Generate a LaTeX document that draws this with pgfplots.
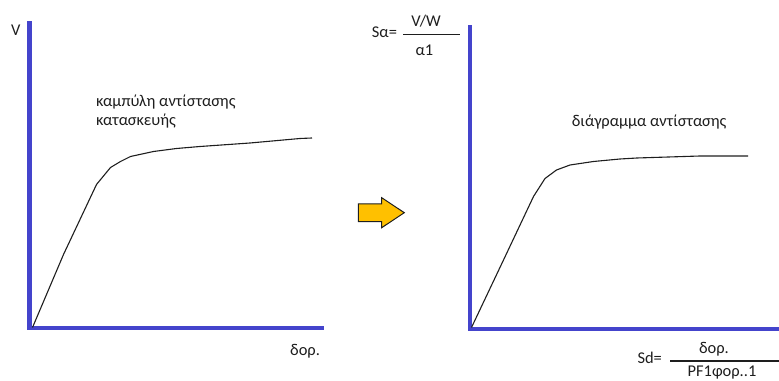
\documentclass[border=0pt]{standalone}
\usepackage{pgfplots}
\pgfplotsset{compat=1.18}
\usepackage{fontspec}
\setmainfont{Carlito}
\definecolor{axisblue}{RGB}{68,68,204}
\definecolor{arrowgold}{RGB}{255,192,0}
\definecolor{ink}{RGB}{30,30,30}

% capacity curve (base shear vs. roof displacement)
\pgfplotstableread{
x y
3 1
34 74
67 144
81 161
91 167
101 172
124 177
147 180
170.5 182
220.5 185.5
270.5 190
282.5 190.5
}\capacity

% capacity spectrum (Sa vs. Sd)
\pgfplotstableread{
x y
2 2
34 69.5
64 133
75.5 151
87 159.5
100.5 164.5
124 168
150.5 170.5
167.5 171.5
230.5 173.5
278.5 173.5
}\spectrum

\pgfplotsset{
  bareaxis/.style={
    scale only axis,
    axis x line*=bottom, axis y line*=left,
    axis line style={draw=axisblue, line width=4bp, line cap=rect},
    ticks=none, clip=false, xmin=0, ymin=0,
  }
}

\begin{document}
\fontsize{16.5}{20}\selectfont
\begin{tikzpicture}
\useasboundingbox (0,0) rectangle (779bp,381bp);

\begin{axis}[bareaxis, at={(29.5bp,52.5bp)}, anchor=south west,
  width=292bp, height=305.5bp, xmax=292, ymax=305.5]
  \addplot[ink, line width=1.1bp] table[x=x,y=y] {\capacity};
\end{axis}

\begin{axis}[bareaxis, at={(469.5bp,51.5bp)}, anchor=south west,
  width=312bp, height=302.5bp, xmax=312, ymax=302.5]
  \addplot[ink, line width=1.1bp] table[x=x,y=y] {\spectrum};
\end{axis}

\begin{scope}[x=1bp, y=1bp, text=ink, inner sep=0pt]
  % left panel labels
  \node[anchor=base west] at (11,346) {V};
  \node[anchor=base west] at (96,274.5) {καμπύλη αντίστασης};
  \node[anchor=base west] at (96,256) {κατασκευής};
  \node[anchor=base west] at (290,26) {δορ.};

  % arrow between the panels
  \draw[ink, line width=1bp, fill=arrowgold, line join=miter]
    (358.3,159.3) -- (358.3,177) -- (381.7,177) -- (381.7,183.3)
    -- (404.3,168.3) -- (381.7,153.3) -- (381.7,159.3) -- cycle;

  % right panel labels
  \node[anchor=base west] at (371.7,343.7) {Sα=};
  \draw[ink, line width=1.3bp] (403.3,346.7) -- (460,346.7);
  \node[anchor=base] at (426,354.3) {V/W};
  \node[anchor=base] at (424.5,326) {α1};
  \node[anchor=base west] at (571.7,254.3) {διάγραμμα αντίστασης};

  \node[anchor=base west] at (637.3,17.7) {Sd=};
  \draw[ink, line width=1.3bp] (670,20) -- (779,20);
  \node[anchor=base] at (714,27.7) {δορ.};
  \node[anchor=base] at (722,4.5) {PF1φορ..1};
\end{scope}
\end{tikzpicture}
\end{document}
